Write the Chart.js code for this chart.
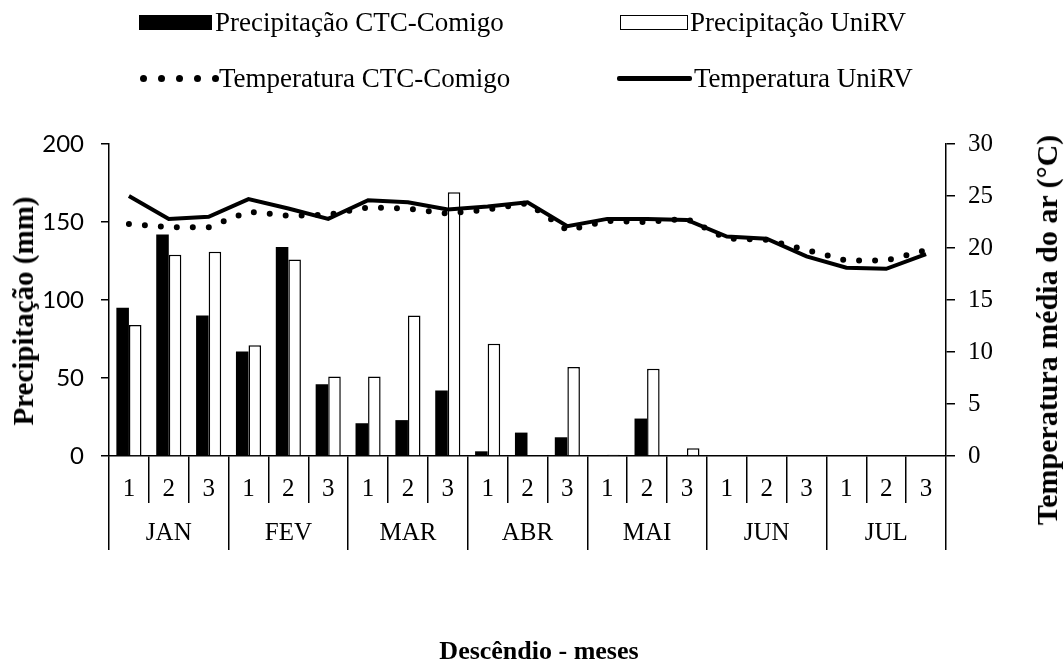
<!DOCTYPE html>
<html>
<head>
<meta charset="utf-8">
<script src="https://cdn.jsdelivr.net/npm/chart.js@4"></script>
<style>
  html, body { margin: 0; padding: 0; background: #fff; }
  #wrap { position: relative; width: 1064px; height: 661px; font-family: 'Liberation Serif', 'Times New Roman', serif; color: #000; }
  #wrap canvas { position: absolute; left: 0; top: 0; }
  .lg { position: absolute; font-size: 27px; line-height: 30px; white-space: nowrap; }
  .mk { position: absolute; box-sizing: border-box; }
  .dot { position: absolute; width: 7px; height: 7px; border-radius: 50%; background: #000; }
  .ttl { position: absolute; font-weight: bold; font-size: 26px; line-height: 30px; white-space: nowrap; transform: translate(-50%, -50%); }
  .rot { transform: translate(-50%, -50%) rotate(-90deg); }
</style>
</head>
<body>
<div id="wrap">
  <canvas id="chart"></canvas>

  <div class="mk" style="left:139px; top:15px; width:73px; height:15px; background:#000;"></div>
  <div class="lg" style="left:215px; top:7px;">Precipitação CTC-Comigo</div>
  <div class="mk" style="left:620px; top:15px; width:68px; height:15px; background:#fff; border:1.5px solid #000;"></div>
  <div class="lg" style="left:690px; top:7px;">Precipitação UniRV</div>

  <div id="dots"></div>
  <div class="lg" style="left:219px; top:63px;">Temperatura CTC-Comigo</div>
  <div class="mk" style="left:617px; top:76px; width:75px; height:5px; background:#000; border-radius:2px;"></div>
  <div class="lg" style="left:694px; top:63px;">Temperatura UniRV</div>

  <div class="ttl rot" style="left:23px; top:311px; font-size:29px;">Precipitação (mm)</div>
  <div class="ttl rot" style="left:1047px; top:330px; font-size:30px;">Temperatura média do ar (°C)</div>
  <div class="ttl" style="left:539px; top:651px;">Descêndio - meses</div>
</div>

<script>
// Descêndios (3 per month) and month names
var descendios = ['1', '2', '3', '1', '2', '3', '1', '2', '3', '1', '2', '3', '1', '2', '3', '1', '2', '3', '1', '2', '3'];
var meses = ['JAN', 'FEV', 'MAR', 'ABR', 'MAI', 'JUN', 'JUL'];

// Precipitation (mm)
var precipCTC = [95, 142, 90, 67, 134, 46, 21, 23, 42, 3, 15, 12, 0, 24, 0, 0, 0, 0, 0, 0, 0];
var precipUniRV = [84, 129, 131, 71, 126, 51, 51, 90, 169, 72, 0, 57, 0.8, 56, 5, 0, 0, 0, 0, 0, 0];

// Mean air temperature (°C)
var tempCTC = [22.3, 22.0, 22.0, 23.5, 23.1, 23.2, 23.9, 23.8, 23.3, 23.7, 24.3, 21.7, 22.6, 22.5, 22.8, 20.9, 20.8, 19.8, 18.8, 18.8, 19.8];
var tempUniRV = [25.0, 22.8, 23.0, 24.7, 23.8, 22.8, 24.6, 24.4, 23.7, 24.0, 24.4, 22.1, 22.8, 22.8, 22.7, 21.1, 20.9, 19.2, 18.1, 18.0, 19.4];

(function() {
    'use strict';

    // legend dots for the dotted line
    var dotsBox = document.getElementById('dots');
    for (var i = 0; i < 5; i++) {
        var d = document.createElement('div');
        d.className = 'dot';
        d.style.left = (140 + i * 18) + 'px';
        d.style.top = '75px';
        dotsBox.appendChild(d);
    }

    var black = '#000000';
    var serif = 'Liberation Serif';

    new Chart(document.getElementById('chart').getContext('2d'), {
        data: {
            labels: descendios,
            datasets: [
                {
                    type: 'line',
                    label: 'Temperatura CTC-Comigo',
                    data: tempCTC,
                    yAxisID: 'y1',
                    xAxisID: 'x',
                    borderColor: black,
                    borderWidth: 6,
                    borderDash: [0, 16],
                    borderCapStyle: 'round',
                    pointRadius: 0,
                    tension: 0,
                    order: 0
                },
                {
                    type: 'line',
                    label: 'Temperatura UniRV',
                    data: tempUniRV,
                    yAxisID: 'y1',
                    xAxisID: 'x',
                    borderColor: black,
                    borderWidth: 4,
                    pointRadius: 0,
                    tension: 0,
                    order: 0
                },
                {
                    type: 'bar',
                    label: 'Precipitação CTC-Comigo',
                    data: precipCTC,
                    yAxisID: 'y',
                    xAxisID: 'x',
                    backgroundColor: black,
                    borderWidth: 0,
                    barPercentage: 1,
                    categoryPercentage: 0.63,
                    order: 1
                },
                {
                    type: 'bar',
                    label: 'Precipitação UniRV',
                    data: precipUniRV,
                    yAxisID: 'y',
                    xAxisID: 'x',
                    backgroundColor: '#ffffff',
                    borderColor: black,
                    borderWidth: 1.5,
                    barPercentage: 1,
                    categoryPercentage: 0.63,
                    order: 1
                }
            ]
        },
        options: {
            responsive: true,
            maintainAspectRatio: false,
            animation: false,
            layout: { padding: { top: 144, left: 0, right: 0, bottom: 0 } },
            plugins: {
                legend: { display: false },
                tooltip: { enabled: false }
            },
            scales: {
                x: {
                    type: 'category',
                    labels: descendios,
                    position: 'bottom',
                    weight: 0,
                    offset: true,
                    grid: { offset: true, drawOnChartArea: false, tickLength: 47, color: black, lineWidth: 1.5 },
                    border: { display: true, color: black, width: 1.5 },
                    ticks: { autoSkip: false, maxRotation: 0, padding: -29, color: black, font: { family: serif, size: 25 } },
                    afterFit: function(s) { s.height = 47; }
                },
                x2: {
                    type: 'category',
                    labels: meses,
                    position: 'bottom',
                    weight: 1,
                    offset: true,
                    grid: { offset: true, drawOnChartArea: false, tickLength: 47, color: black, lineWidth: 1.5 },
                    border: { display: false },
                    ticks: { autoSkip: false, maxRotation: 0, padding: -32, color: black, font: { family: serif, size: 25 } },
                    afterFit: function(s) { s.height = 158; }
                },
                y: {
                    position: 'left',
                    min: 0,
                    max: 200,
                    grid: { drawOnChartArea: false, tickLength: 8, color: black, lineWidth: 1.5 },
                    border: { color: black, width: 1.5 },
                    ticks: { stepSize: 50, padding: 17, color: black, font: { family: 'Lato', size: 24 } },
                    afterFit: function(s) { s.width = 109; }
                },
                y1: {
                    position: 'right',
                    min: 0,
                    max: 30,
                    grid: { drawOnChartArea: false, tickLength: 9, color: black, lineWidth: 1.5 },
                    border: { color: black, width: 1.5 },
                    ticks: { stepSize: 5, padding: 13, color: black, font: { family: serif, size: 25 } },
                    afterFit: function(s) { s.width = 118; }
                }
            }
        }
    });
})();
</script>
</body>
</html>
